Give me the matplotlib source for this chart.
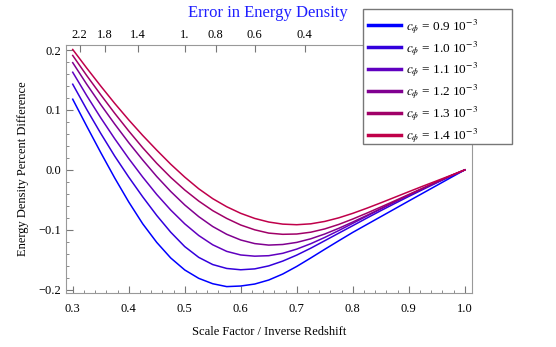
import matplotlib
matplotlib.use("Agg")
import matplotlib.pyplot as plt
from matplotlib.patches import Rectangle
from matplotlib.ticker import MultipleLocator, FixedLocator

plt.rcParams["font.family"] = ["Liberation Serif", "DejaVu Serif"]
plt.rcParams["mathtext.fontset"] = "stix"

# scale factor grid
a = [0.300, 0.325, 0.350, 0.375, 0.400, 0.425, 0.450, 0.475, 0.500, 0.525,
     0.550, 0.575, 0.600, 0.625, 0.650, 0.675, 0.700, 0.725, 0.750, 0.775,
     0.800, 0.825, 0.850, 0.875, 0.900, 0.925, 0.950, 0.975, 1.000]

# percent difference for each c_phi
d09 = [0.118, 0.073, 0.029, -0.0135, -0.0535, -0.090, -0.121, -0.147, -0.167, -0.181,
       -0.190, -0.1948, -0.1938, -0.1905, -0.1838, -0.1738, -0.1611, -0.147, -0.1325, -0.1183,
       -0.1043, -0.0912, -0.0781, -0.0650, -0.0519, -0.0389, -0.0259, -0.0129, 0.000]
d10 = [0.143, 0.101, 0.061, 0.023, -0.012, -0.045, -0.076, -0.104, -0.128, -0.146,
       -0.158, -0.1645, -0.1667, -0.1652, -0.1602, -0.1522, -0.1422, -0.1307, -0.1182, -0.1056,
       -0.0931, -0.0805, -0.0681, -0.0561, -0.0443, -0.0328, -0.0215, -0.0105, 0.000]
d11 = [0.163, 0.124, 0.087, 0.052, 0.019, -0.012, -0.041, -0.067, -0.090, -0.1095,
       -0.125, -0.136, -0.142, -0.144, -0.1432, -0.1392, -0.1322, -0.1232, -0.1127, -0.1012,
       -0.0892, -0.0772, -0.0652, -0.0534, -0.0421, -0.0312, -0.0205, -0.0101, 0.000]
d12 = [0.179, 0.143, 0.109, 0.0765, 0.0455, 0.0165, -0.011, -0.036, -0.0585, -0.078,
       -0.0945, -0.1075, -0.117, -0.123, -0.1255, -0.1245, -0.121, -0.115, -0.107, -0.0975,
       -0.087, -0.076, -0.0647, -0.0534, -0.0422, -0.0312, -0.0204, -0.0099, 0.000]
d13 = [0.191, 0.1575, 0.1255, 0.0945, 0.065, 0.037, 0.011, -0.0125, -0.0335, -0.052,
       -0.068, -0.081, -0.092, -0.100, -0.1055, -0.1075, -0.107, -0.104, -0.0985, -0.091,
       -0.082, -0.0722, -0.062, -0.0516, -0.041, -0.0304, -0.0199, -0.0096, 0.000]
d14 = [0.201, 0.170, 0.140, 0.111, 0.0835, 0.0575, 0.033, 0.0095, -0.012, -0.0315,
       -0.048, -0.0615, -0.0725, -0.081, -0.087, -0.0905, -0.0915, -0.090, -0.086, -0.080,
       -0.0725, -0.064, -0.055, -0.0457, -0.0364, -0.0272, -0.0182, -0.0092, 0.000]

cphi = ["0.9", "1.0", "1.1", "1.2", "1.3", "1.4"]
colors = ["#0000ff", "#3300dd", "#6000c0", "#800090", "#a00068", "#c0004a"]

# redshift labels on the top axis
z_top = [2.2, 1.8, 1.4, 1.0, 0.8, 0.6, 0.4]
z_labels = ["2.2", "1.8", "1.4", "1.", "0.8", "0.6", "0.4"]

W, H = 556, 347
fig = plt.figure(figsize=(W / 100, H / 100), dpi=100)
ax = fig.add_axes([0.1187, 0.1547, 0.7303, 0.7165])

lines = []
for d, c, col in zip([d09, d10, d11, d12, d13, d14], cphi, colors):
    ln, = ax.plot(a, d, color=col, lw=1.1, label=r"$c_\phi$ = " + c + r" 10$^{-3}$")
    lines.append(ln)

ax.set_xlim(0.288, 1.013)
ax.set_ylim(-0.206, 0.209)
ax.xaxis.set_minor_locator(MultipleLocator(0.02))
ax.yaxis.set_minor_locator(MultipleLocator(0.02))
ax.set_xticks([0.3, 0.4, 0.5, 0.6, 0.7, 0.8, 0.9, 1.0])
ax.set_xticklabels(["0.3", "0.4", "0.5", "0.6", "0.7", "0.8", "0.9", "1.0"])
ax.set_yticks([-0.2, -0.1, 0.0, 0.1, 0.2])
ax.set_yticklabels(["\u22120.2", "\u22120.1", "0.0", "0.1", "0.2"])
ax.tick_params(which="both", direction="in", top=False, right=False,
               labelsize=9, color="#777777")
ax.tick_params(axis="x", pad=7)
ax.tick_params(which="major", length=5)
ax.tick_params(which="minor", length=2.5)
for s in ax.spines.values():
    s.set_color("#999999")

top = ax.twiny()
top.set_xlim(ax.get_xlim())
top.xaxis.set_major_locator(FixedLocator([1 / (1 + z) for z in z_top]))
top.set_xticklabels(z_labels)
top.tick_params(direction="in", length=5, labelsize=9, color="#777777", pad=3)
for s in top.spines.values():
    s.set_visible(False)

ax.set_xlabel("Scale Factor / Inverse Redshift", fontsize=9, labelpad=8)
ax.set_ylabel("Energy Density Percent Difference", fontsize=9, labelpad=7)
fig.text(0.482, 0.962, "Error in Energy Density", color="#2020ff",
         fontsize=12, ha="center", va="center")

# legend box (Mathematica style, wider than its entries)
box = Rectangle((363 / W, 1 - 144 / H), 149 / W, 135 / H, transform=fig.transFigure,
                facecolor="white", edgecolor="#777777", lw=1.0, zorder=4.9)
fig.add_artist(box)
leg = fig.legend(handles=lines, loc="upper left", bbox_to_anchor=(368 / W, 1 - 17 / H),
                 borderaxespad=0, fontsize=9.5, frameon=False,
                 handlelength=2.5, labelspacing=0.23, borderpad=0,
                 handletextpad=0.4)
leg.set_zorder(5)
for h in leg.legend_handles:
    h.set_linewidth(2.5)

fig.savefig("out.png", dpi=100)
